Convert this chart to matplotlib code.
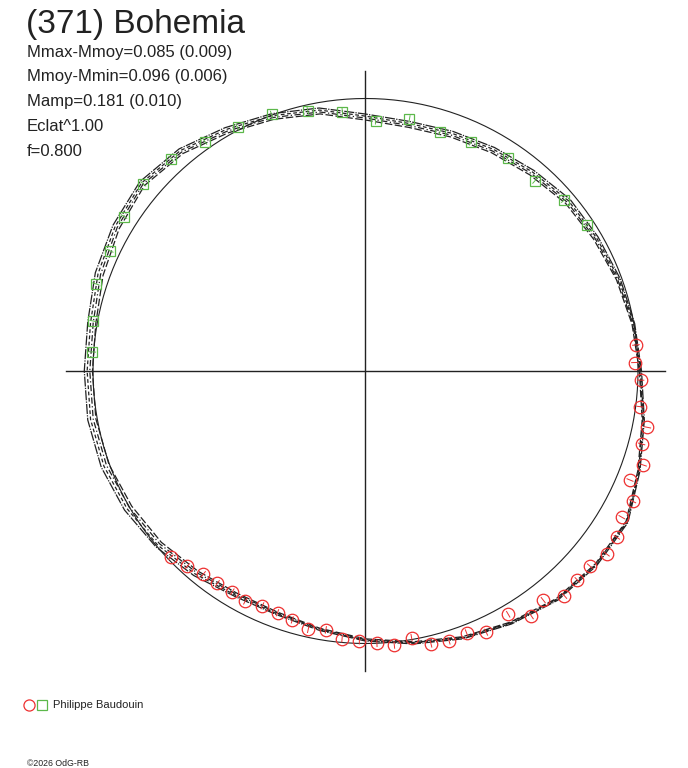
import numpy as np
import matplotlib
matplotlib.use("Agg")
import matplotlib.pyplot as plt

plt.rcParams["font.family"] = ["Liberation Sans", "DejaVu Sans"]

W, H = 688, 768
CX, CY = 365.5, 371.0      # pixel position of the plot centre
SCALE = 272.5              # pixels per unit radius (mean brightness = 1)

TITLE = "(371) Bohemia"
INFO_LINES = [
    "Mmax-Mmoy=0.085 (0.009)",
    "Mmoy-Mmin=0.096 (0.006)",
    "Mamp=0.181 (0.010)",
    "Eclat^1.00",
    "f=0.800",
]
OBSERVER = "Philippe Baudouin"
COPYRIGHT = "\u00a92026 OdG-RB"

# fitted curve, relative radius every 10 deg of phase angle (0..350)
FIT_ANGLE = np.arange(0, 360, 10)
FIT_R = [1.009, 0.998, 0.987, 0.976, 0.969, 0.950, 0.936, 0.925, 0.919,
         0.932, 0.969, 0.994, 1.020, 1.053, 1.070, 1.057, 1.040, 1.020,
         1.017, 1.020, 1.017, 1.006, 0.991, 0.969, 0.949, 0.947, 0.963,
         0.987, 1.013, 1.042, 1.068, 1.094, 1.105, 1.108, 1.068, 1.035]
# how far the family of fits spreads around FIT_R
FIT_SPREAD = [0.004, 0.005, 0.007, 0.009, 0.011, 0.011, 0.011, 0.011, 0.011,
              0.011, 0.011, 0.011, 0.011, 0.011, 0.011, 0.013, 0.015, 0.015,
              0.015, 0.015, 0.015, 0.015, 0.013, 0.011, 0.007, 0.005, 0.004,
              0.004, 0.004, 0.004, 0.004, 0.004, 0.004, 0.004, 0.004, 0.004]
FIT_OFFSETS = [-1.0, -0.35, 0.3, 1.0]
FIT_STYLES = [(0, (6, 2)), (0, (5, 2, 1, 2)), (0, (3, 2)), (0, (8, 1, 1, 1))]

# session 1 (green squares): phase angle (deg), relative radius
GREEN_ANGLE = [176.0, 169.6, 162.1, 154.8, 147.4, 139.9, 132.5, 125.0, 117.7,
               110.1, 102.5, 95.1, 87.7, 80.1, 72.7, 65.3, 56.3, 48.3, 40.7, 33.4]
GREEN_R = [1.005, 1.016, 1.040, 1.036, 1.052, 1.066, 1.056, 1.028, 1.010,
           1.003, 0.978, 0.955, 0.919, 0.939, 0.920, 0.925, 0.941, 0.935,
           0.961, 0.972]

# session 2 (red circles)
RED_ANGLE = [5.5, 1.8, -1.9, -7.4, -11.3, -14.8, -18.7, -22.4, -26.0, -29.7,
             -33.5, -37.2, -41.0, -44.6, -48.5, -52.2, -55.9, -59.6, -65.2,
             -68.9, -72.8, -76.5, -80.2, -84.0, -87.6, -91.3, -95.0, -98.7,
             -102.5, -106.4, -110.0, -113.7, -117.6, -121.1, -124.9, -128.6,
             -132.4, -136.3]
RED_R = [0.997, 0.989, 1.010, 1.016, 1.055, 1.048, 1.076, 1.050, 1.091, 1.083,
         1.106, 1.111, 1.091, 1.092, 1.102, 1.064, 1.086, 1.035, 1.056, 1.030,
         1.037, 1.030, 0.993, 1.011, 1.000, 0.990, 0.986, 0.961, 0.971, 0.952,
         0.944, 0.941, 0.953, 0.946, 0.950, 0.954, 0.970, 0.989]
POINT_ERR = 0.012

AXIS_EXTENT = 1.1
GREEN = "#5cb84a"
RED = "#ee3030"
INK = "#222222"


def xy(angle_deg, r):
    a = np.radians(np.asarray(angle_deg, dtype=float))
    r = np.asarray(r, dtype=float)
    return r * np.cos(a), r * np.sin(a)


def closed(a):
    a = np.asarray(a, dtype=float)
    return np.append(a, a[0])


fig = plt.figure(figsize=(W / 100, H / 100), dpi=100)
ax = fig.add_axes([0, 0, 1, 1])
ax.set_xlim(-CX / SCALE, (W - CX) / SCALE)
ax.set_ylim(-(H - CY) / SCALE, CY / SCALE)
ax.axis("off")

# crosshair
ax.plot([-AXIS_EXTENT, AXIS_EXTENT], [0, 0], color=INK, lw=1.0)
ax.plot([0, 0], [-AXIS_EXTENT, AXIS_EXTENT], color=INK, lw=1.0)

# mean brightness circle
t = np.linspace(0, 2 * np.pi, 361)
ax.plot(np.cos(t), np.sin(t), color=INK, lw=0.8)

# family of fitted curves
fit_r = np.array(FIT_R)
spread = np.array(FIT_SPREAD)
for off, ls in zip(FIT_OFFSETS, FIT_STYLES):
    x, y = xy(closed(FIT_ANGLE), closed(fit_r + off * spread))
    ax.plot(x, y, color=INK, lw=0.9, linestyle=ls)


def points(angles, radii, marker, color, size):
    for a, r in zip(angles, radii):
        x, y = xy([a, a], [r - POINT_ERR, r + POINT_ERR])
        ax.plot(x, y, color=color, lw=0.7)
    x, y = xy(angles, radii)
    ax.plot(x, y, linestyle="none", marker=marker, ms=size,
            mfc="none", mec=color, mew=0.9)


points(GREEN_ANGLE, GREEN_R, "s", GREEN, 7.5)
points(RED_ANGLE, RED_R, "o", RED, 9)

# texts
fig.text(26 / W, 1 - 33.3 / H, TITLE, fontsize=24, color=INK, va="baseline")
for i, line in enumerate(INFO_LINES):
    fig.text(27 / W, 1 - (56.7 + 24.8 * i) / H, line, fontsize=12,
             color=INK, va="baseline")

fig.lines.append(plt.Line2D([29 / W], [1 - 705 / H], transform=fig.transFigure,
                            marker="o", ms=8, mfc="none", mec=RED, mew=0.9))
fig.lines.append(plt.Line2D([42 / W], [1 - 705 / H], transform=fig.transFigure,
                            marker="s", ms=6.5, mfc="none", mec=GREEN, mew=0.9))
fig.text(53 / W, 1 - 708.5 / H, OBSERVER, fontsize=8, color=INK, va="baseline")
fig.text(27 / W, 1 - 765.5 / H, COPYRIGHT, fontsize=6.3, color=INK,
         va="baseline")

fig.savefig("out.png", dpi=100)
